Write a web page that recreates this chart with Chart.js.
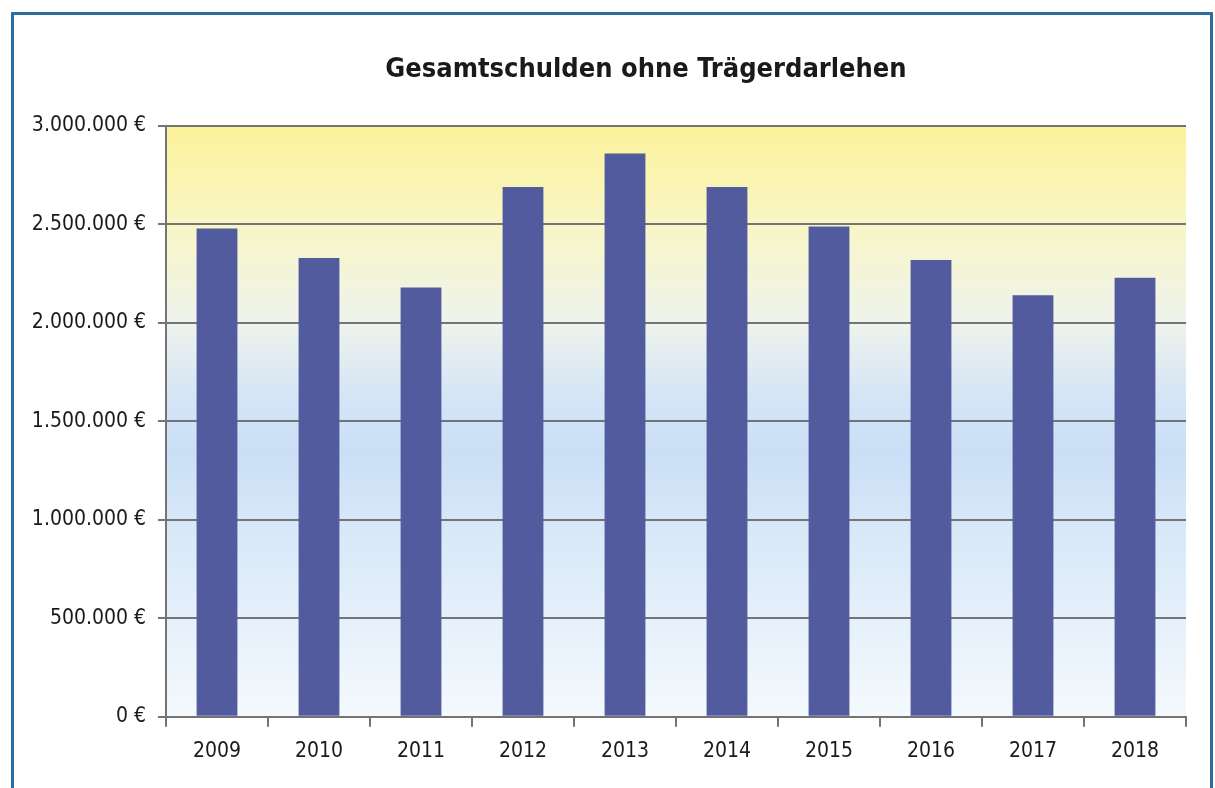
<!DOCTYPE html>
<html>
<head>
<meta charset="utf-8">
<script src="https://cdn.jsdelivr.net/npm/chart.js@4.4.1/dist/chart.umd.min.js"></script>
<style>
  html, body { margin: 0; padding: 0; background: #fff; }
  #wrap { position: relative; width: 1215px; height: 788px; overflow: hidden; }
  #frame { position: absolute; left: 11px; top: 12px; width: 1202px; height: 800px; border: 3px solid #2f6c9f; box-sizing: border-box; pointer-events: none; }
</style>
</head>
<body>
<div id="wrap">
  <canvas id="debtChart"></canvas>
  <div id="frame"></div>
</div>
<script>
// Gesamtschulden ohne Trägerdarlehen, Werte in Euro
var years = ['2009', '2010', '2011', '2012', '2013', '2014', '2015', '2016', '2017', '2018'];
var debts = [2480000, 2330000, 2180000, 2690000, 2860000, 2690000, 2490000, 2320000, 2140000, 2230000];
var yTicks = [0, 500000, 1000000, 1500000, 2000000, 2500000, 3000000];
var chartTitle = 'Gesamtschulden ohne Trägerdarlehen';

var fontFam = "'Liberation Sans Narrow', 'DejaVu Sans Condensed', Lato, sans-serif";
var gridColor = '#747474';

function euro(v) {
    return String(v).replace(/\B(?=(\d{3})+(?!\d))/g, '.') + ' €';
}

// Verlauf gelb -> weiß -> blau -> weiß hinter den Säulen
var plotBackground = {
    id: 'plotBackground',
    beforeDraw: function (chart) {
        var a = chart.chartArea;
        var c = chart.ctx;
        var g = c.createLinearGradient(0, a.top, 0, a.bottom);
        g.addColorStop(0, '#fcf29a');
        g.addColorStop(0.17, '#f8f6c6');
        g.addColorStop(0.33, '#eef3ec');
        g.addColorStop(0.47, '#d3e4f7');
        g.addColorStop(0.55, '#cadff6');
        g.addColorStop(0.7, '#d9e9f8');
        g.addColorStop(1, '#f4f9fd');
        c.save();
        c.fillStyle = g;
        c.fillRect(a.left, a.top, a.right - a.left, a.bottom - a.top);
        c.restore();
    }
};

// Titel etwas rechts der Mitte, wie im Original
var titlePlugin = {
    id: 'offsetTitle',
    afterDraw: function (chart) {
        var c = chart.ctx;
        c.save();
        c.font = 'bold 27px ' + fontFam;
        c.fillStyle = '#1a1a1a';
        c.textAlign = 'center';
        c.textBaseline = 'middle';
        c.fillText(chartTitle, 646, 70);
        c.restore();
    }
};

var ctx = document.getElementById('debtChart').getContext('2d');
var debtChart = new Chart(ctx, {
    type: 'bar',
    data: {
        labels: years,
        datasets: [{
            label: 'Gesamtschulden',
            data: debts,
            backgroundColor: '#515b9e',
            barPercentage: 0.4,
            categoryPercentage: 1
        }]
    },
    options: {
        responsive: true,
        maintainAspectRatio: false,
        animation: false,
        layout: { padding: { left: 0, right: 29, top: 126, bottom: 12 } },
        plugins: {
            legend: { display: false },
            tooltip: { enabled: false },
            title: { display: false }
        },
        scales: {
            x: {
                grid: { drawOnChartArea: false, drawTicks: true, tickLength: 10, offset: true, color: gridColor, lineWidth: 2 },
                border: { color: gridColor, width: 2 },
                ticks: { color: '#1a1a1a', font: { family: fontFam, size: 21 }, padding: 12 }
            },
            y: {
                min: 0,
                max: 3000000,
                afterFit: function (s) { s.width = 166; },
                afterBuildTicks: function (s) { s.ticks = yTicks.map(function (v) { return { value: v }; }); },
                grid: { color: gridColor, lineWidth: 2, tickLength: 8 },
                border: { color: gridColor, width: 2 },
                ticks: {
                    color: '#1a1a1a',
                    font: { family: fontFam, size: 21 },
                    padding: 12,
                    callback: function (v) { return euro(v); }
                }
            }
        }
    },
    plugins: [plotBackground, titlePlugin]
});
</script>
</body>
</html>
